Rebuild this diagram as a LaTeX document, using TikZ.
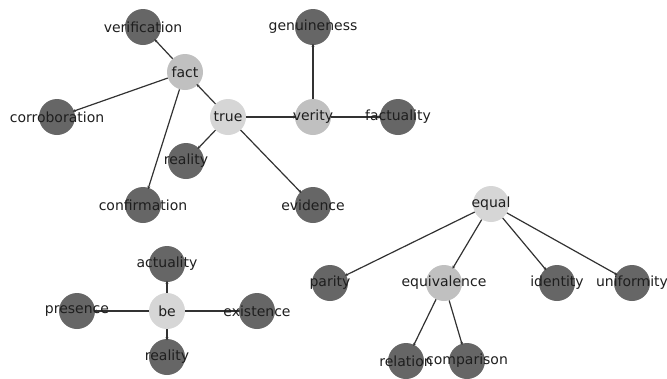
\documentclass[tikz,border=0pt]{standalone}
\usepackage{fontspec}
\setmainfont{DejaVu Sans}
\usetikzlibrary{arrows.meta}
\definecolor{darknode}{RGB}{102,102,102}
\definecolor{midnode}{RGB}{192,192,192}
\definecolor{lightnode}{RGB}{214,214,214}
\definecolor{edgecol}{RGB}{50,50,50}
\definecolor{txt}{RGB}{30,30,30}
\tikzset{
  base/.style={circle, minimum size=36pt, inner sep=0pt, draw=none},
  dk/.style={base, fill=darknode},
  md/.style={base, fill=midnode},
  lt/.style={base, fill=lightnode},
  lbl/.style={font=\fontsize{14}{15}\selectfont, text=txt, inner sep=0pt},
  edge/.style={draw=edgecol, line width=1.2pt, -{Stealth[length=3pt,width=3pt]}, shorten >=-1.5pt}
}
\begin{document}
\begin{tikzpicture}[x=1pt,y=-1pt]
\useasboundingbox (0,0) rectangle (667,378);
% nodes
\node[dk] (verification) at (143,27) {};
\node[md] (fact) at (185,72) {};
\node[dk] (corroboration) at (57,117) {};
\node[lt] (true) at (228,117) {};
\node[md] (verity) at (313,117) {};
\node[dk] (genuineness) at (313,27) {};
\node[dk] (factuality) at (398,117) {};
\node[dk] (reality1) at (186,161) {};
\node[dk] (confirmation) at (143,205) {};
\node[dk] (evidence) at (313,205) {};
\node[lt] (equal) at (491,204) {};
\node[dk] (parity) at (330,283) {};
\node[md] (equivalence) at (444,283) {};
\node[dk] (identity) at (557,283) {};
\node[dk] (uniformity) at (632,283) {};
\node[dk] (relation) at (406,361) {};
\node[dk] (comparison) at (467,361) {};
\node[lt] (be) at (167,311) {};
\node[dk] (actuality) at (167,264) {};
\node[dk] (presence) at (77,311) {};
\node[dk] (existence) at (257,311) {};
\node[dk] (reality2) at (167,357) {};
% edges
\draw[edge] (fact) -- (verification);
\draw[edge] (fact) -- (corroboration);
\draw[edge] (fact) -- (confirmation);
\draw[edge] (true) -- (fact);
\draw[edge] (true) -- (verity);
\draw[edge] (true) -- (reality1);
\draw[edge] (true) -- (evidence);
\draw[edge] (verity) -- (genuineness);
\draw[edge] (verity) -- (factuality);
\draw[edge] (equal) -- (parity);
\draw[edge] (equal) -- (equivalence);
\draw[edge] (equal) -- (identity);
\draw[edge] (equal) -- (uniformity);
\draw[edge] (equivalence) -- (relation);
\draw[edge] (equivalence) -- (comparison);
\draw[edge] (be) -- (actuality);
\draw[edge] (be) -- (presence);
\draw[edge] (be) -- (existence);
\draw[edge] (be) -- (reality2);
% labels
\foreach \n/\t in {verification/verification, fact/fact, corroboration/corroboration, true/true, verity/verity, genuineness/genuineness, factuality/factuality, reality1/reality, confirmation/confirmation, evidence/evidence, equal/equal, parity/parity, equivalence/equivalence, identity/identity, uniformity/uniformity, relation/relation, comparison/comparison, be/be, actuality/actuality, presence/presence, existence/existence, reality2/reality}
  \node[lbl] (\n-t) at (\n) {\t};
\end{tikzpicture}
\end{document}
